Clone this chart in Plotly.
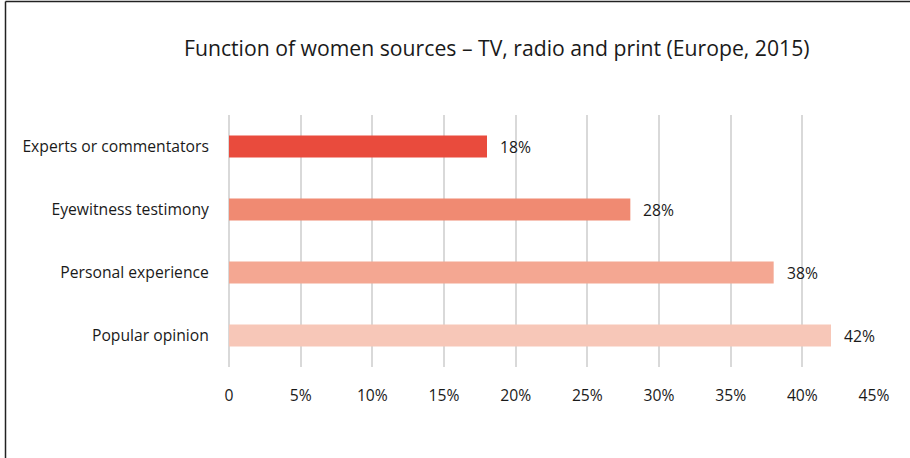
import plotly.graph_objects as go

categories = ["Experts or commentators", "Eyewitness testimony", "Personal experience", "Popular opinion"]
values = [18, 28, 38, 42]
colors = ["#E94B3D", "#F08A72", "#F4A792", "#F7C7B8"]
tick_vals = [0, 5, 10, 15, 20, 25, 30, 35, 40, 45]
tick_text = ["0", "5%", "10%", "15%", "20%", "25%", "30%", "35%", "40%", "45%"]
title = "Function of women sources \u2013 TV, radio and print (Europe, 2015)"

FONT = "Open Sans"
FS = 15.7

fig = go.Figure()
fig.add_trace(go.Bar(
    y=categories, x=values, orientation="h",
    marker=dict(color=colors, line=dict(width=0)),
    width=0.35, hoverinfo="skip",
))

annotations = []
for c, v in zip(categories, values):
    annotations.append(dict(x=v, y=c, xref="x", yref="y", text=f"{v}%",
                            showarrow=False, xanchor="left", xshift=11,
                            font=dict(family=FONT, size=FS, color="#1a1a1a")))
annotations.append(dict(x=0.5, y=(367 - 47) / 252, xref="paper", yref="paper",
                        text=title, showarrow=False, xanchor="center", yanchor="middle",
                        xshift=(497 - (229 + 645 / 2)),
                        font=dict(family=FONT, size=21.2, color="#1a1a1a")))

L, R, T, B = 229, 36, 115, 91
pw, ph = 910 - L - R, 458 - T - B
def px_x(p):
    return (p - L) / pw
def px_y(p):
    return (458 - B - p) / ph

shapes = [
    dict(type="line", xref="paper", yref="paper", x0=px_x(5.5), x1=px_x(5.5),
         y0=px_y(1.5), y1=px_y(470), line=dict(color="#222222", width=1.5)),
    dict(type="line", xref="paper", yref="paper", x0=px_x(5.5), x1=px_x(920),
         y0=px_y(1.5), y1=px_y(1.5), line=dict(color="#222222", width=1.5)),
]

fig.update_layout(
    width=910, height=458,
    margin=dict(l=L, r=R, t=T, b=B, pad=0),
    paper_bgcolor="white", plot_bgcolor="white",
    showlegend=False,
    annotations=annotations,
    shapes=shapes,
    font=dict(family=FONT, size=FS, color="#1a1a1a"),
    bargap=0.65,
)
fig.update_xaxes(range=[0, 45], tickvals=tick_vals, ticktext=tick_text,
                 showgrid=True, gridcolor="#D9D9D9", gridwidth=2,
                 zeroline=True, zerolinecolor="#D9D9D9", zerolinewidth=2,
                 showline=False, ticks="outside", ticklen=14, tickcolor="rgba(0,0,0,0)",
                 tickfont=dict(family=FONT, size=FS),
                 fixedrange=True)
fig.update_yaxes(autorange="reversed", showgrid=False, zeroline=False, showline=False,
                 ticks="outside", ticklen=16, tickcolor="rgba(0,0,0,0)",
                 tickfont=dict(family=FONT, size=FS), fixedrange=True)

fig.write_html("out.html", config={"displayModeBar": False})
